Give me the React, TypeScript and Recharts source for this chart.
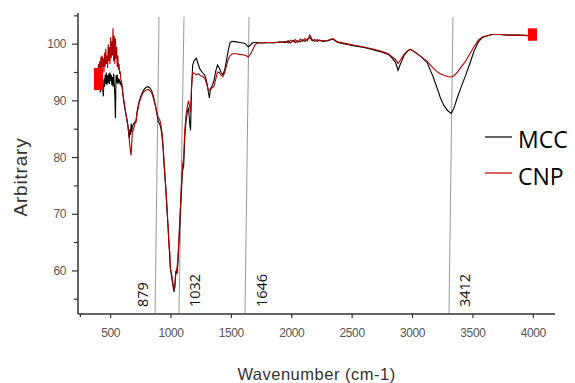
import { LineChart, Line, XAxis, YAxis, ReferenceLine, ReferenceArea } from 'recharts';

// wavenumber (cm-1) and transmittance of the two samples
const wavenumber = [
  395, 400, 405, 410, 415, 420, 425, 430, 435, 440,
  445, 450, 455, 460, 465, 470, 475, 480, 485, 490,
  495, 500, 505, 510, 515, 520, 525, 530, 535, 540,
  545, 550, 555, 560, 565, 570, 575, 580, 585, 590,
  595, 605, 615, 625, 635, 645, 650, 655, 660, 665,
  670, 675, 680, 690, 700, 710, 720, 735, 750, 765,
  780, 795, 810, 825, 840, 855, 870, 885, 895, 905,
  915, 925, 935, 945, 955, 965, 975, 985, 990, 995,
  1005, 1015, 1025, 1032, 1040, 1050, 1058, 1066, 1075, 1085,
  1095, 1105, 1115, 1125, 1135, 1145, 1155, 1162, 1170, 1180,
  1195, 1210, 1225, 1240, 1260, 1280, 1295, 1310, 1318, 1328,
  1340, 1355, 1370, 1385, 1400, 1415, 1430, 1445, 1460, 1475,
  1490, 1510, 1540, 1570, 1600, 1620, 1640, 1660, 1680, 1700,
  1720, 1760, 1800, 1850, 1900, 1950, 1970, 1990, 2010, 2030,
  2050, 2070, 2090, 2110, 2130, 2150, 2170, 2190, 2210, 2230,
  2260, 2300, 2340, 2380, 2450, 2520, 2600, 2680, 2750, 2800,
  2830, 2860, 2880, 2900, 2930, 2960, 2985, 3020, 3070, 3120,
  3170, 3200, 3230, 3260, 3290, 3320, 3340, 3370, 3400, 3440,
  3475, 3510, 3545, 3580, 3620, 3660, 3720, 3800, 3880, 3960,
  4000,
];

const mcc = [
  92.5, 94.0, 92.0, 93.5, 91.5, 94.5, 92.8, 94.2, 92.0, 90.8,
  93.8, 92.5, 94.6, 93.0, 95.0, 92.8, 94.5, 93.2, 94.8, 93.0,
  95.0, 93.5, 94.6, 92.8, 94.2, 92.5, 94.8, 93.0, 91.0, 87.0,
  94.5, 93.2, 94.6, 93.0, 94.0, 93.2, 93.8, 92.8, 93.4, 92.6,
  92.4, 90.5, 89.0, 87.8, 86.8, 85.5, 84.0, 83.4, 85.0, 84.0,
  86.0, 84.5, 85.5, 86.0, 86.2, 86.5, 88.2, 89.8, 90.8, 91.6,
  92.1, 92.4, 92.5, 92.3, 91.8, 90.8, 89.3, 87.5, 86.3, 86.0,
  85.3, 84.0, 81.5, 78.0, 75.0, 71.5, 68.0, 64.5, 62.0, 60.5,
  59.0, 57.5, 56.3, 57.5, 60.0, 59.5, 61.5, 65.0, 69.0, 73.5,
  77.5, 78.5, 84.0, 86.5, 88.0, 88.8, 86.0, 84.8, 92.0, 96.4,
  97.2, 97.5, 96.5, 95.6, 95.0, 94.5, 93.5, 91.5, 90.5, 92.2,
  92.6, 93.5, 95.2, 96.3, 95.8, 95.0, 94.6, 95.5, 97.2, 99.0,
  100.3, 100.5, 100.4, 100.3, 100.2, 100.0, 99.5, 99.9, 100.3, 100.3,
  100.3, 100.2, 100.3, 100.2, 100.4, 100.3, 100.6, 100.2, 100.7, 100.3,
  100.6, 100.4, 100.8, 100.5, 100.9, 101.2, 100.6, 100.8, 100.5, 100.7,
  100.5, 100.6, 100.9, 100.3, 100.0, 99.7, 99.4, 99.0, 98.6, 98.2,
  97.6, 96.8, 95.4, 96.5, 98.0, 98.8, 99.1, 98.6, 97.8, 96.8,
  94.3, 92.5, 90.6, 89.2, 88.3, 87.8, 88.5, 90.5, 92.3, 94.5,
  96.6, 98.8, 100.4, 101.2, 101.5, 101.7, 101.7, 101.6, 101.6, 101.5,
  101.5,
];

const cnp = [
  95.0, 96.5, 94.5, 97.0, 95.5, 97.8, 95.2, 98.0, 96.0, 97.5,
  95.0, 98.5, 96.0, 99.2, 96.5, 98.0, 95.8, 100.0, 97.0, 99.5,
  96.5, 101.2, 97.5, 100.5, 98.0, 102.8, 97.0, 101.5, 96.5, 101.0,
  97.5, 99.5, 96.0, 98.0, 95.5, 96.5, 94.8, 95.2, 93.8, 93.5,
  92.8, 90.8, 89.4, 88.0, 86.5, 85.2, 84.5, 83.0, 82.0, 81.0,
  80.4, 82.5, 84.5, 85.0, 86.0, 86.2, 87.8, 89.5, 90.5, 91.3,
  91.7, 91.9, 92.0, 91.8, 91.4, 90.4, 89.2, 87.8, 87.0, 86.8,
  86.0, 84.5, 82.0, 78.5, 75.5, 72.0, 68.0, 64.0, 63.5, 60.5,
  59.5, 58.0, 56.8, 57.0, 59.5, 60.5, 62.5, 66.0, 70.0, 74.5,
  78.5, 80.0, 85.0, 87.5, 89.0, 90.0, 89.0, 88.0, 92.5, 95.0,
  94.8, 94.6, 94.8, 94.5, 94.3, 94.0, 93.0, 92.0, 91.9, 92.0,
  92.3, 92.5, 93.8, 95.1, 95.0, 94.5, 94.3, 95.0, 96.2, 97.4,
  98.0, 98.3, 98.3, 98.2, 98.1, 98.0, 97.7, 98.3, 99.2, 100.0,
  100.2, 100.2, 100.3, 100.3, 100.3, 100.5, 100.2, 100.7, 100.4, 100.8,
  100.3, 100.9, 100.5, 101.0, 100.6, 101.6, 100.8, 100.5, 100.8, 100.6,
  100.6, 100.7, 101.0, 100.4, 100.1, 99.8, 99.5, 99.1, 98.7, 98.3,
  97.8, 97.3, 96.6, 97.2, 98.2, 98.9, 99.1, 98.6, 97.8, 97.0,
  95.8, 95.2, 94.8, 94.5, 94.3, 94.2, 94.4, 95.0, 95.9, 97.0,
  98.3, 99.6, 100.7, 101.3, 101.5, 101.7, 101.7, 101.6, 101.6, 101.5,
  101.5,
];

const xTicks = [250, 500, 750, 1000, 1250, 1500, 1750, 2000, 2250, 2500, 2750, 3000, 3250, 3500, 3750, 4000];
const yTicks = [55, 60, 65, 70, 75, 80, 85, 90, 95, 100, 105];

// peak marker lines (slightly tilted in the original), bottom/top wavenumber
const peakLabels = ['879', '1032', '1646', '3412'];
const peakBottom = [868, 1066, 1613, 3302];
const peakTop = [901, 1108, 1646, 3335];

// red end markers: [x1, x2, y1, y2]
const endMarkers = [
  [362, 437, 91.9, 95.8],
  [3956, 4031, 100.6, 102.8],
];

const Y_MIN = 52.4;
const Y_MAX = 105.5;
const PEAK_TOP_Y = 104.8;

const data = wavenumber.map((w, i) => ({ w, mcc: mcc[i], cnp: cnp[i] }));

const tickFont = { fontFamily: 'Liberation Sans, Arial, sans-serif', fontSize: 12, letterSpacing: -0.4, fill: '#555' };

const XTick = ({ x, y, payload }: any) => {
  const major = payload.value % 500 === 0;
  return (
    <g>
      <line x1={x} x2={x} y1={y} y2={y + (major ? 4 : 3)} stroke="#333" strokeWidth={1.2} />
      {major && (
        <text x={x} y={y + 19} textAnchor="middle" dominantBaseline="central" {...tickFont}>
          {payload.value}
        </text>
      )}
    </g>
  );
};

const YTick = ({ x, y, payload }: any) => {
  const major = payload.value % 10 === 0;
  return (
    <g>
      <line x1={x - (major ? 6 : 4)} x2={x} y1={y} y2={y} stroke="#333" strokeWidth={1.2} />
      {major && (
        <text x={x - 12} y={y} textAnchor="end" dominantBaseline="central" {...tickFont}>
          {payload.value}
        </text>
      )}
    </g>
  );
};

const peakLabel = (label: string, left: boolean) => (props: any) => {
  const vb = props.viewBox;
  if (!vb) return null;
  const cx = vb.x + (left ? -13 : 16);
  const cy = vb.y + vb.height - 7;
  return (
    <text
      x={cx}
      y={cy}
      transform={`rotate(-90 ${cx} ${cy})`}
      textAnchor="start"
      dominantBaseline="central"
      fontFamily="Open Sans, sans-serif"
      fontSize={14.5}
      fill="#111"
    >
      {label}
    </text>
  );
};

export default function App() {
  return (
    <div style={{ position: 'absolute', left: 0, top: 0, width: 575, height: 383, background: '#fff' }}>
      <LineChart width={575} height={383} data={data} margin={{ top: 13, right: 20, bottom: 0, left: 0 }}>
        <XAxis
          dataKey="w"
          type="number"
          domain={[230, 4180]}
          ticks={xTicks}
          allowDataOverflow
          height={69}
          tickSize={0}
          tickMargin={0}
          tickLine={false}
          tick={<XTick />}
          axisLine={{ stroke: '#333', strokeWidth: 1.5 }}
          label={{
            content: (p: any) => (
              <text
                x={p.viewBox.x + p.viewBox.width / 2}
                y={p.viewBox.y + 60}
                textAnchor="middle"
                dominantBaseline="central"
                fontFamily="Liberation Sans, Arial, sans-serif"
                fontSize={16.5}
                letterSpacing={0.5}
                fill="#333"
              >
                Wavenumber (cm-1)
              </text>
            ),
          }}
        />
        <YAxis
          type="number"
          domain={[Y_MIN, Y_MAX]}
          ticks={yTicks}
          allowDataOverflow
          width={78}
          tickSize={0}
          tickMargin={0}
          tickLine={false}
          tick={<YTick />}
          axisLine={{ stroke: '#333', strokeWidth: 1.5 }}
          label={{
            content: () => {
              const cx = 20;
              const cy = 177;
              return (
                <text
                  x={cx}
                  y={cy}
                  transform={`rotate(-90 ${cx} ${cy})`}
                  textAnchor="middle"
                  dominantBaseline="central"
                  fontFamily="Liberation Sans, Arial, sans-serif"
                  fontSize={19}
                  letterSpacing={0.8}
                  fill="#333"
                >
                  Arbitrary
                </text>
              );
            },
          }}
        />
        {peakLabels.map((label, i) => (
          <ReferenceLine
            key={label}
            segment={[
              { x: peakBottom[i], y: Y_MIN },
              { x: peakTop[i], y: PEAK_TOP_Y },
            ]}
            stroke="#999"
            strokeWidth={1}
            label={{ content: peakLabel(label, i === 0) }}
          />
        ))}
        <Line type="linear" dataKey="mcc" stroke="#000" strokeWidth={1.1} dot={false} isAnimationActive={false} />
        <Line type="linear" dataKey="cnp" stroke="#b00000" strokeWidth={1.1} dot={false} isAnimationActive={false} />
        {endMarkers.map((m, i) => (
          <ReferenceArea key={i} x1={m[0]} x2={m[1]} y1={m[2]} y2={m[3]} fill="#ff0000" fillOpacity={1} stroke="none" ifOverflow="visible" zIndex={1500} />
        ))}
      </LineChart>
      <svg width={575} height={383} style={{ position: 'absolute', left: 0, top: 0, pointerEvents: 'none' }}>
        <line x1={485} x2={512} y1={137} y2={137} stroke="#000" strokeWidth={1.2} />
        <text x={518} y={148} fontFamily="Open Sans, sans-serif" fontSize={23} fill="#000">MCC</text>
        <line x1={485} x2={512} y1={173} y2={173} stroke="#c00000" strokeWidth={1.2} />
        <text x={518} y={185} fontFamily="Open Sans, sans-serif" fontSize={23} fill="#000">CNP</text>
      </svg>
    </div>
  );
}
